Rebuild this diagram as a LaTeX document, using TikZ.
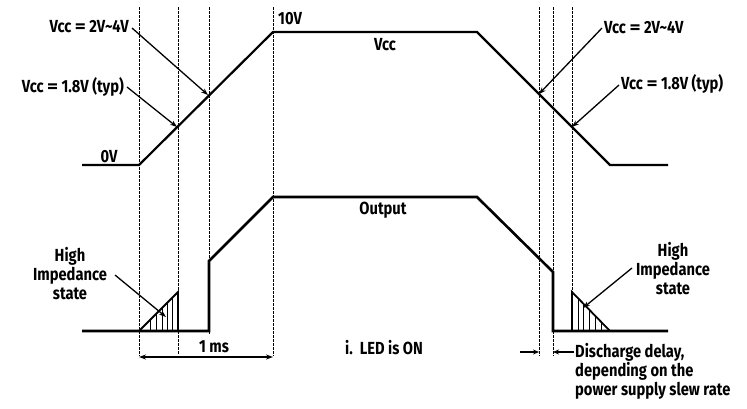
\documentclass[tikz,border=0pt]{standalone}
\usepackage{fontspec}
\setmainfont{Fira Sans}[FakeStretch=0.84]
\usetikzlibrary{arrows.meta}
\newcommand{\eqw}{\hspace{3.5pt}\scalebox{1.45}[1]{=}\hspace{3.5pt}}
\tikzset{
  sig/.style={line width=2.6pt, line join=miter},
  vsig/.style={line width=2.2pt, line join=miter},
  guide/.style={line width=0.9pt, dash pattern=on 2.5pt off 1.5pt},
  callout/.style={line width=1.3pt, -{Stealth[length=7pt,width=5pt]}},
  dim/.style={line width=1.2pt, {Stealth[length=7pt,width=5pt]}-{Stealth[length=7pt,width=5pt]}},
  hatch/.style={line width=0.8pt},
  lbl/.style={font=\bfseries\fontsize{17.5}{20}\selectfont, inner sep=0pt},
  lblm/.style={lbl, align=center},
  lbll/.style={lbl, align=left},
}
\begin{document}
\begin{tikzpicture}[x=1pt,y=-1pt]
\useasboundingbox (0,0) rectangle (747,408);
% guide lines
\draw[guide] (139,7) -- (139,356);
\draw[guide] (178,7) -- (178,354);
\draw[guide] (209,7) -- (209,334);
\draw[guide] (273,7) -- (273,356);
\draw[guide] (539,7) -- (539,356);
\draw[guide] (553,7) -- (553,356);
\draw[guide] (572,7) -- (572,331);
% Vcc waveform
\coordinate (v0) at (82,165);
\coordinate (v1) at (139,165);
\coordinate (v2) at (273,32);
\coordinate (v3) at (477,32);
\coordinate (v4) at (610,165);
\coordinate (v5) at (668,165);
\draw[vsig] (v0) -- (v1) -- (v2) -- (v3) -- (v4) -- (v5);
% crossing points
\coordinate (cA) at (177,127);
\coordinate (cB) at (208,95);
\coordinate (cC) at (539,94);
\coordinate (cD) at (572,127);
% Output waveform
\coordinate (o0) at (82,331);
\coordinate (o1) at (209,331);
\coordinate (o2) at (209,261);
\coordinate (o3) at (273,197);
\coordinate (o4) at (477,197);
\coordinate (o5) at (553,272);
\coordinate (o6) at (553,331);
\coordinate (o7) at (668,331);
\draw[sig] (o0) -- (o1) -- (o2) -- (o3) -- (o4) -- (o5) -- (o6) -- (o7);
% left hatched triangle
\coordinate (tL1) at (139,331);
\coordinate (tL2) at (178,292);
\coordinate (tL3) at (178,331);
\draw[line width=1.8pt] (tL1) -- (tL2) -- (tL3);
\foreach \x in {150,156,162,167,172} {
  \draw[hatch] (\x,331) -- (\x,{331-(\x-139)});
}
% right hatched triangle
\coordinate (tR1) at (572,331);
\coordinate (tR2) at (572,292);
\coordinate (tR3) at (610,331);
\draw[line width=1.8pt] (tR1) -- (tR2) -- (tR3);
\foreach \x in {578,583,589,595,601} {
  \draw[hatch] (\x,331) -- (\x,{331-(610-\x)});
}
% labels
\node[lbl, anchor=west] (t10) at (278,19) {10V};
\node[lbl] (tvcc) at (385,45) {Vcc};
\node[lbl] (tout) at (383,210) {Output};
\node[lbl] (t0v) at (109,157) {0V};
\node[lbl, anchor=east] (tA) at (129,27) {Vcc\eqw 2V\textasciitilde4V};
\node[lbl, anchor=east] (tB) at (124,87) {Vcc\eqw 1.8V (typ)};
\node[lbl, anchor=west] (tC) at (604,28) {Vcc\eqw 2V\textasciitilde4V};
\node[lbl, anchor=west] (tD) at (621,84) {Vcc\eqw 1.8V (typ)};
\draw[callout] (tA.east) ++(3,1) coordinate (aA) -- (cB);
\draw[callout] (tB.east) ++(3,0) coordinate (aB) -- (cA);
\draw[callout] (tC.west) ++(-2,0) coordinate (aC) -- (cC);
\draw[callout] (tD.west) ++(-2,1) coordinate (aD) -- (cD);
% high impedance labels
\node[lblm] (hL) at (70,274) {High\\[-1pt]Impedance\\[-1pt]state};
\node[lblm] (hR) at (673,269) {High\\[-1pt]Impedance\\[-1pt]state};
\coordinate (hLt) at (166,317);
\coordinate (hRt) at (583,308);
\draw[callout] (115,275) -- (hLt);
\draw[callout] (632,268) -- (hRt);
% 1 ms dimension
\coordinate (d1) at (139,357);
\coordinate (d2) at (273,357);
\draw[dim] (d1) -- (d2);
\node[lbl] (tms) at (214,347) {1 ms};
\node[lbl] (tled) at (384,348) {i.\ \ LED is ON};
% discharge delay
\coordinate (dd1) at (520,352);
\coordinate (dd2) at (539,352);
\coordinate (dd3) at (574,352);
\coordinate (dd4) at (553,352);
\draw[line width=1.2pt, -{Stealth[length=6pt,width=5pt]}] (dd1) -- (dd2);
\draw[line width=1.2pt, -{Stealth[length=6pt,width=5pt]}] (dd3) -- (dd4);
\node[lbll, anchor=north west] (tdd) at (575,343) {Discharge delay,\\[-1pt]depending on the\\[-1pt]power supply slew rate};
\end{tikzpicture}
\end{document}
